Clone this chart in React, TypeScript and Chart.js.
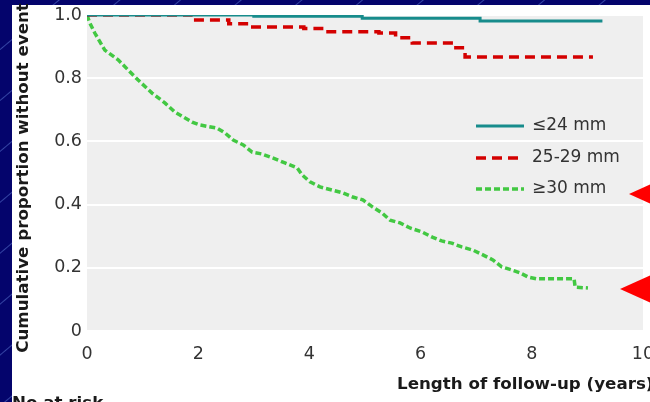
import React, { useEffect, useRef } from "react";
import { Chart, registerables } from "chart.js";

Chart.register(...registerables);

// ---- data ----
const xTickValues = [0, 2, 4, 6, 8, 10];
const seriesLabels = ["≤24 mm", "25-29 mm", "≥30 mm"];

const smallYears = [0, 3.0, 4.95, 7.07, 9.27];
const smallSurv = [1.0, 0.996, 0.99, 0.981, 0.981];

const midYears = [0, 1.9, 2.55, 2.9, 3.9, 4.22, 5.25, 5.55, 5.85, 6.55, 6.8, 9.1];
const midSurv = [1.0, 0.984, 0.972, 0.962, 0.957, 0.947, 0.943, 0.928, 0.911, 0.896, 0.867, 0.867];

const largeYears = [
  0, 0.05, 0.14, 0.32, 0.56, 0.74, 0.92, 1.17, 1.4, 1.58, 1.89, 2.03, 2.34, 2.48, 2.63,
  2.81, 2.97, 3.15, 3.35, 3.56, 3.78, 3.87, 4.01, 4.19, 4.41, 4.6, 4.78, 4.96, 5.14, 5.31,
  5.45, 5.63, 5.81, 6.03, 6.21, 6.38, 6.56, 6.74, 6.94, 7.12, 7.3, 7.46, 7.64, 7.79, 7.93,
  8.09, 8.76, 8.78, 9.01,
];
const largeSurv = [
  1.0, 0.975, 0.943, 0.889, 0.858, 0.826, 0.794, 0.753, 0.722, 0.693, 0.661, 0.652, 0.642,
  0.627, 0.604, 0.589, 0.566, 0.56, 0.547, 0.532, 0.516, 0.494, 0.472, 0.456, 0.446, 0.437,
  0.424, 0.415, 0.392, 0.373, 0.351, 0.342, 0.326, 0.313, 0.297, 0.285, 0.278, 0.266, 0.256,
  0.241, 0.225, 0.203, 0.193, 0.184, 0.171, 0.165, 0.165, 0.139, 0.136,
];

const yAxisTitle = "Cumulative proportion without event";
const xAxisTitle = "Length of follow-up (years)";
const atRiskTitle = "No at risk";

const toPoints = (xs: number[], ys: number[]) => xs.map((x, i) => ({ x, y: ys[i] }));

const FONT = "'DejaVu Sans', sans-serif";

const decorPlugin = {
  id: "decor",
  beforeDraw(chart: any) {
    const { ctx, chartArea } = chart;
    ctx.save();
    ctx.fillStyle = "#efefef";
    ctx.fillRect(chartArea.left, chartArea.top - 1, chartArea.right - chartArea.left, chartArea.bottom - chartArea.top + 2);
    ctx.restore();
  },
  afterDraw(chart: any) {
    const { ctx } = chart;
    ctx.save();
    // legend
    const rows = [126, 158, 189];
    chart.data.datasets.forEach((ds: any, i: number) => {
      const y = rows[i];
      ctx.beginPath();
      ctx.strokeStyle = ds.borderColor;
      ctx.lineWidth = ds.borderWidth;
      ctx.setLineDash(ds.borderDash || []);
      ctx.moveTo(476, y);
      ctx.lineTo(524, y);
      ctx.stroke();
      ctx.setLineDash([]);
      ctx.fillStyle = "#333";
      ctx.font = `17px ${FONT}`;
      ctx.textAlign = "left";
      ctx.textBaseline = "middle";
      ctx.fillText(ds.label, 532, y);
    });
    // titles
    ctx.fillStyle = "#1a1a1a";
    ctx.font = `bold 16.7px ${FONT}`;
    ctx.save();
    ctx.translate(24, 178);
    ctx.rotate(-Math.PI / 2);
    ctx.textAlign = "center";
    ctx.textBaseline = "middle";
    ctx.fillText(yAxisTitle, 0, 0);
    ctx.restore();
    ctx.textAlign = "left";
    ctx.textBaseline = "middle";
    ctx.fillText(xAxisTitle, 397, 385);
    ctx.textBaseline = "alphabetic";
    ctx.fillText(atRiskTitle, 12, 408);
    // red pointers
    ctx.fillStyle = "#ff0000";
    ctx.beginPath();
    ctx.moveTo(629, 194);
    ctx.lineTo(662, 179);
    ctx.lineTo(662, 209);
    ctx.closePath();
    ctx.fill();
    ctx.beginPath();
    ctx.moveTo(620, 289);
    ctx.lineTo(662, 270);
    ctx.lineTo(662, 308);
    ctx.closePath();
    ctx.fill();
    ctx.restore();
  },
};

export default function App() {
  const ref = useRef<HTMLCanvasElement | null>(null);

  useEffect(() => {
    if (!ref.current) return;
    const chart = new Chart(ref.current, {
      type: "line",
      data: {
        datasets: [
          {
            label: seriesLabels[0],
            data: toPoints(smallYears, smallSurv),
            borderColor: "#178c8c",
            borderWidth: 3,
            stepped: true,
            pointRadius: 0,
            fill: false,
          },
          {
            label: seriesLabels[1],
            data: toPoints(midYears, midSurv),
            borderColor: "#d40000",
            borderWidth: 3.5,
            borderDash: [10, 6],
            stepped: true,
            pointRadius: 0,
            fill: false,
          },
          {
            label: seriesLabels[2],
            data: toPoints(largeYears, largeSurv),
            borderColor: "#42c842",
            borderWidth: 3.5,
            borderDash: [6, 3],
            pointRadius: 0,
            tension: 0,
            fill: false,
          },
        ] as any,
      },
      options: {
        animation: false,
        responsive: false,
        maintainAspectRatio: false,
        layout: { padding: { top: 15, right: 7, bottom: 0, left: 0 } },
        plugins: {
          legend: { display: false },
          tooltip: { enabled: false },
        },
        scales: {
          x: {
            type: "linear",
            min: 0,
            max: 10,
            afterBuildTicks: (scale: any) => {
              scale.ticks = xTickValues.map((v) => ({ value: v }));
            },
            ticks: {
              color: "#333",
              font: { family: FONT, size: 17.5 },
              padding: 5,
              maxRotation: 0,
              callback: (v: any) => String(v),
            },
            grid: { display: false },
            border: { display: false },
            afterFit: (scale: any) => {
              scale.height = 71;
              scale.paddingLeft = 0;
              scale.paddingRight = 0;
            },
          },
          y: {
            type: "linear",
            min: 0,
            max: 1,
            ticks: {
              stepSize: 0.2,
              color: "#333",
              font: { family: FONT, size: 17.5 },
              padding: 5,
              callback: (v: any) => (Number(v) === 0 ? "0" : Number(v).toFixed(1)),
            },
            grid: { color: "#ffffff", lineWidth: 2, drawTicks: false },
            border: { display: false },
            afterFit: (scale: any) => {
              scale.width = 87;
              scale.paddingTop = 0;
              scale.paddingBottom = 0;
            },
          },
        },
      } as any,
      plugins: [decorPlugin],
    });
    return () => chart.destroy();
  }, []);

  return (
    <div
      style={{
        position: "fixed",
        left: 0,
        top: 0,
        width: 650,
        height: 402,
        overflow: "hidden",
        background:
          "repeating-linear-gradient(140deg, #04046c 0px, #04046c 37px, #3444a4 38px, #04046c 39px)",
      }}
    >
      <div
        style={{
          position: "absolute",
          left: 12,
          top: 5,
          width: 650,
          height: 402,
          background: "#ffffff",
        }}
      />
      <canvas
        ref={ref}
        width={650}
        height={402}
        style={{ position: "absolute", left: 0, top: 0, width: 650, height: 402 }}
      />
    </div>
  );
}
